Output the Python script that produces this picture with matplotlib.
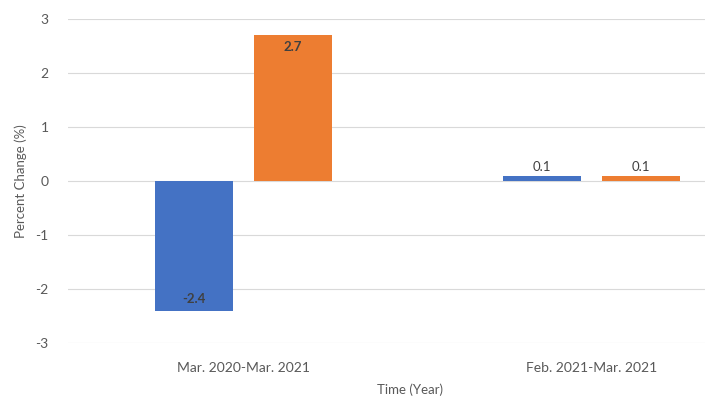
import numpy as np
import matplotlib
matplotlib.use("Agg")
import matplotlib.pyplot as plt
from matplotlib.ticker import MultipleLocator

# Percent change by period, two series
periods = ["Mar. 2020-Mar. 2021", "Feb. 2021-Mar. 2021"]
series_a = [-2.4, 0.1]
series_b = [2.7, 0.1]

blue = "#4472C4"
orange = "#ED7D31"
text_grey = "#595959"

plt.rcParams["font.family"] = ["Lato", "DejaVu Sans"]
plt.rcParams["axes.unicode_minus"] = False

fig = plt.figure(figsize=(7.05, 3.99), dpi=100, facecolor="w")
ax = fig.add_axes([68/705, 1 - 343/399, 637/705, 324/399])

x = np.arange(len(periods))
bar_w = 0.224
offset = 0.142

bars_a = ax.bar(x - offset, series_a, bar_w, color=blue, zorder=3)
bars_b = ax.bar(x + offset, series_b, bar_w, color=orange, zorder=3)

# value labels: inside the end of tall bars, above the short ones
for bars in (bars_a, bars_b):
    for b in bars:
        v = b.get_height()
        cx = b.get_x() + b.get_width() / 2
        if abs(v) > 0.5:
            y = v - 0.22 if v > 0 else v + 0.22
            ax.text(cx, y, f"{v:.1f}", ha="center", va="center",
                    fontsize=9.5, fontweight="bold", color="#404040", zorder=4)
        else:
            ax.text(cx, v + 0.05, f"{v:.1f}", ha="center", va="bottom",
                    fontsize=9.5, color="#404040", zorder=4)

ax.set_ylim(-3, 3)
ax.set_xlim(-0.504, 1.326)
ax.yaxis.set_major_locator(MultipleLocator(1))
ax.set_xticks(x)
ax.set_xticklabels(periods)

ax.grid(axis="y", color="#d9d9d9", linewidth=0.8, zorder=0)
for s in ax.spines.values():
    s.set_visible(False)
ax.tick_params(axis="both", length=0, labelsize=10, labelcolor=text_grey)
ax.tick_params(axis="x", pad=14)
ax.tick_params(axis="y", pad=14)

ax.set_ylabel("Percent Change (%)", fontsize=9.5, color=text_grey, labelpad=6)
fig.text(410/705, 1 - 390/399, "Time (Year)", ha="center", va="center",
         fontsize=9.5, color=text_grey)

fig.savefig("out.png", dpi=100)
